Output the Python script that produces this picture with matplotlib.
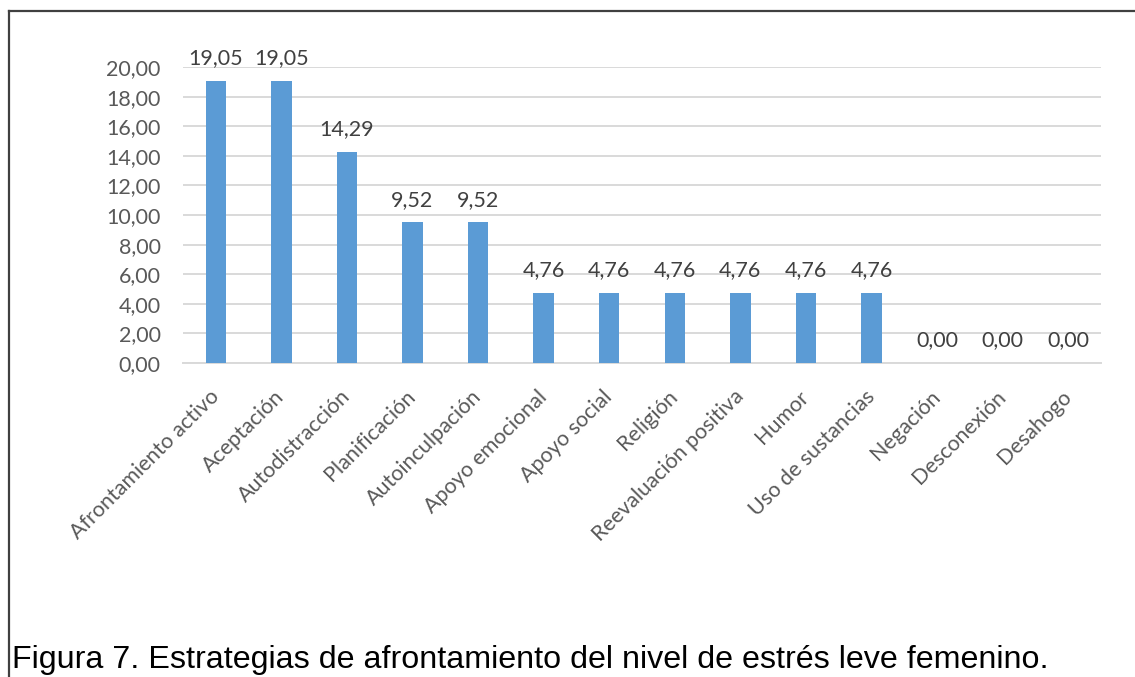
import matplotlib
matplotlib.use("Agg")
import matplotlib.pyplot as plt
from matplotlib.lines import Line2D

categories = [
    "Afrontamiento activo", "Aceptación", "Autodistracción", "Planificación",
    "Autoinculpación", "Apoyo emocional", "Apoyo social", "Religión",
    "Reevaluación positiva", "Humor", "Uso de sustancias", "Negación",
    "Desconexión", "Desahogo",
]
values = [19.05, 19.05, 14.29, 9.52, 9.52, 4.76, 4.76, 4.76, 4.76, 4.76, 4.76, 0.00, 0.00, 0.00]
y_ticks = [0, 2, 4, 6, 8, 10, 12, 14, 16, 18, 20]
caption = "Figura 7. Estrategias de afrontamiento del nivel de estrés leve femenino."


def fmt(v):
    return f"{v:.2f}".replace(".", ",")


plt.rcParams["font.family"] = ["Lato", "DejaVu Sans"]
FS = 15.5

fig = plt.figure(figsize=(11.35, 6.77), dpi=100)
ax = fig.add_axes([183 / 1135, 1 - 363 / 677, (1101 - 183) / 1135, (363 - 67) / 677])

x = list(range(len(categories)))
bars = ax.bar(x, values, width=0.31, color="#5b9bd5", zorder=3)

ax.set_xlim(-0.5, len(categories) - 0.5)
ax.set_ylim(0, 20)
ax.set_yticks(y_ticks)
ax.set_yticklabels([fmt(t) for t in y_ticks], fontsize=FS, color="#595959")
ax.tick_params(axis="y", length=0, pad=16)

ax.set_xticks(x)
ax.set_xticklabels(categories, rotation=45, ha="right", va="center",
                   rotation_mode="anchor", fontsize=FS, color="#595959")
ax.tick_params(axis="x", length=0, pad=22)

ax.grid(axis="y", color="#d9d9d9", linewidth=1.4, zorder=0)
for side in ("top", "right", "left"):
    ax.spines[side].set_visible(False)
ax.spines["bottom"].set_color("#d9d9d9")
ax.spines["bottom"].set_linewidth(1.4)

for rect, v in zip(bars, values):
    ax.annotate(fmt(v), (rect.get_x() + rect.get_width() / 2, v),
                xytext=(0, 9), textcoords="offset points",
                ha="center", va="bottom", fontsize=FS, color="#404040")

# frame around the chart, open at the right and bottom
fig.add_artist(Line2D([9 / 1135, 1.0], [1 - 11 / 677, 1 - 11 / 677],
                      transform=fig.transFigure, color="#404040", linewidth=1.6))
fig.add_artist(Line2D([9 / 1135, 9 / 1135], [1 - 11 / 677, 0.0],
                      transform=fig.transFigure, color="#404040", linewidth=1.6))

fig.text(12 / 1135, 1 - 668 / 677, caption, family=["Liberation Sans", "DejaVu Sans"],
         fontsize=23.2, color="#000000", ha="left", va="baseline")

fig.savefig("out.png", dpi=100, facecolor="white")
